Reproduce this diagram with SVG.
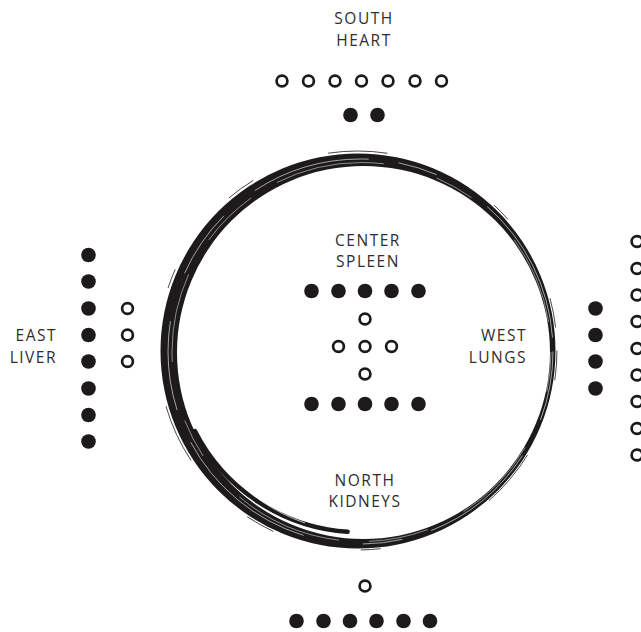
<svg xmlns="http://www.w3.org/2000/svg" width="641" height="632" viewBox="0 0 641 632">
<style>
text{font-family:"Open Sans","Noto Sans",sans-serif;font-size:15.5px;fill:#2e2e2e;letter-spacing:1.5px}
.c{text-anchor:middle}
.r{text-anchor:end}
.f{fill:#1c1a1a}
.o{fill:none;stroke:#1c1a1a;stroke-width:2.7}
.ring{fill:none;stroke:#1c1a1a}
.w{fill:none;stroke:#fff}
</style>
<rect width="641" height="632" fill="#fff"/>
<g id="ring">
<path fill="#1c1a1a" fill-rule="evenodd" d="M160.5,351 a197.5,197.5 0 1,0 395,0 a197.5,197.5 0 1,0 -395,0 Z M177,352.5 a186.5,186.5 0 1,0 373,0 a186.5,186.5 0 1,0 -373,0 Z"/>
<circle class="w" cx="360.5" cy="351.5" r="192.5" stroke-width="0.6" stroke-dasharray="70 40 120 30 40 60 150 35 90 50"/>
<circle class="w" cx="361.5" cy="352" r="189.5" stroke-width="0.5" stroke-dasharray="40 60 90 40 60 30 110 55"/>
<circle class="ring" cx="357.5" cy="350.5" r="199.5" stroke-width="0.8" stroke-dasharray="30 80 60 120 20 90"/>
<path class="ring" d="M194.9,431.1 A185,185 0 0,0 347.6,531.8" stroke-width="4.5" stroke-linecap="round"/>
<path class="w" d="M225,468 A183,183 0 0,0 305,523" stroke-width="0.7"/>
</g>
<g id="south">
<text class="c" x="364" y="24">SOUTH</text>
<text class="c" x="364" y="46">HEART</text>
<circle class="o" cx="282" cy="81" r="5.4"/><circle class="o" cx="308.5" cy="81" r="5.4"/><circle class="o" cx="335" cy="81" r="5.4"/><circle class="o" cx="361.5" cy="81" r="5.4"/><circle class="o" cx="388" cy="81" r="5.4"/><circle class="o" cx="415" cy="81" r="5.4"/><circle class="o" cx="441.5" cy="81" r="5.4"/>
<circle class="f" cx="350.5" cy="115" r="7.3"/><circle class="f" cx="377.5" cy="115" r="7.3"/>
</g>
<g id="east">
<text class="r" x="57" y="341">EAST</text>
<text class="r" x="57" y="363">LIVER</text>
<circle class="f" cx="88.5" cy="255" r="7.3"/><circle class="f" cx="88.5" cy="281.5" r="7.3"/><circle class="f" cx="88.5" cy="308.5" r="7.3"/><circle class="f" cx="88.5" cy="335" r="7.3"/><circle class="f" cx="88.5" cy="361.5" r="7.3"/><circle class="f" cx="88.5" cy="388.5" r="7.3"/><circle class="f" cx="88.5" cy="415" r="7.3"/><circle class="f" cx="88.5" cy="441.5" r="7.3"/>
<circle class="o" cx="127.5" cy="308.5" r="5.4"/><circle class="o" cx="127.5" cy="335" r="5.4"/><circle class="o" cx="127.5" cy="361.5" r="5.4"/>
</g>
<g id="west">
<text class="r" x="527" y="341">WEST</text>
<text class="r" x="527" y="363">LUNGS</text>
<circle class="f" cx="595.5" cy="308.5" r="7.3"/><circle class="f" cx="595.5" cy="335" r="7.3"/><circle class="f" cx="595.5" cy="361.5" r="7.3"/><circle class="f" cx="595.5" cy="388.5" r="7.3"/>
<circle class="o" cx="637" cy="241.5" r="5.4"/><circle class="o" cx="637" cy="268.5" r="5.4"/><circle class="o" cx="637" cy="295" r="5.4"/><circle class="o" cx="637" cy="321.5" r="5.4"/><circle class="o" cx="637" cy="348.5" r="5.4"/><circle class="o" cx="637" cy="375" r="5.4"/><circle class="o" cx="637" cy="401.5" r="5.4"/><circle class="o" cx="637" cy="428.5" r="5.4"/><circle class="o" cx="637" cy="455" r="5.4"/>
</g>
<g id="center">
<text class="c" x="368" y="246">CENTER</text>
<text class="c" x="368" y="267">SPLEEN</text>
<circle class="f" cx="311.5" cy="291" r="7.3"/><circle class="f" cx="338.5" cy="291" r="7.3"/><circle class="f" cx="365" cy="291" r="7.3"/><circle class="f" cx="391.5" cy="291" r="7.3"/><circle class="f" cx="418.5" cy="291" r="7.3"/>
<circle class="o" cx="365" cy="319" r="5.4"/>
<circle class="o" cx="338.5" cy="346.5" r="5.4"/><circle class="o" cx="365" cy="346.5" r="5.4"/><circle class="o" cx="391.5" cy="346.5" r="5.4"/>
<circle class="o" cx="365" cy="374" r="5.4"/>
<circle class="f" cx="311.5" cy="404" r="7.3"/><circle class="f" cx="338.5" cy="404" r="7.3"/><circle class="f" cx="365" cy="404" r="7.3"/><circle class="f" cx="391.5" cy="404" r="7.3"/><circle class="f" cx="418.5" cy="404" r="7.3"/>
</g>
<g id="north">
<text class="c" x="365" y="486">NORTH</text>
<text class="c" x="365" y="507">KIDNEYS</text>
<circle class="o" cx="365" cy="586" r="5.4"/>
<circle class="f" cx="296.5" cy="621" r="7.3"/><circle class="f" cx="323.5" cy="621" r="7.3"/><circle class="f" cx="350" cy="621" r="7.3"/><circle class="f" cx="376.5" cy="621" r="7.3"/><circle class="f" cx="403.5" cy="621" r="7.3"/><circle class="f" cx="430" cy="621" r="7.3"/>
</g>
</svg>
